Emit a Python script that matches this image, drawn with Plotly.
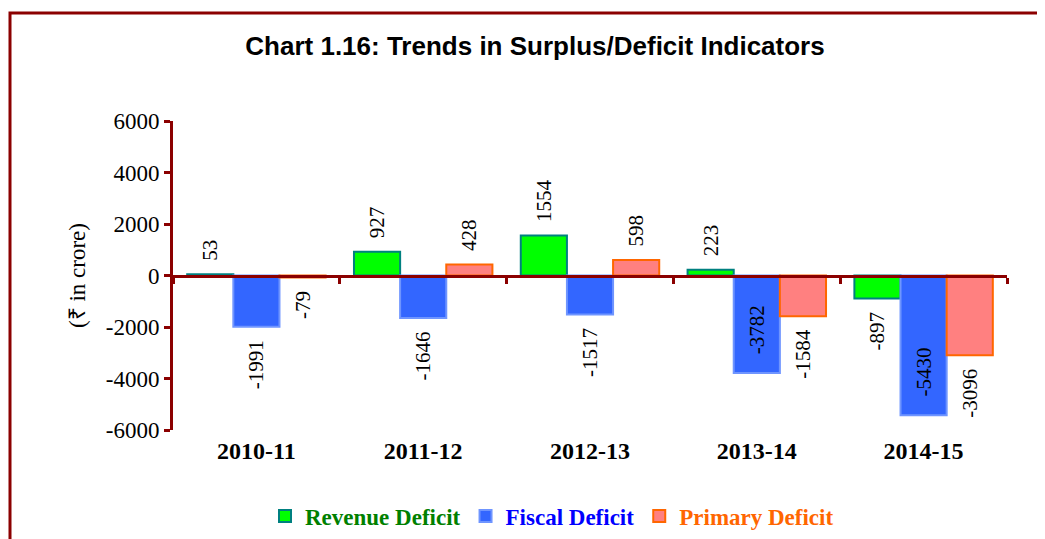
import plotly.graph_objects as go

years = ["2010-11", "2011-12", "2012-13", "2013-14", "2014-15"]
revenue_deficit = [53, 927, 1554, 223, -897]
fiscal_deficit = [-1991, -1646, -1517, -3782, -5430]
primary_deficit = [-79, 428, 598, -1584, -3096]
y_ticks = [-6000, -4000, -2000, 0, 2000, 4000, 6000]

# page places the figure at an 8px body margin; work in window pixels
OFF = 8
W, H = 1045 - OFF, 539 - OFF
PLOT_L, PLOT_R, PLOT_T, PLOT_B = 173, 1007, 121, 430
ML, MT = PLOT_L - OFF, PLOT_T - OFF
MR, MB = 1045 - PLOT_R, 539 - PLOT_B
PW, PH = PLOT_R - PLOT_L, PLOT_B - PLOT_T
DARK_RED = "#8B0000"
SERIF = "Liberation Serif, Times New Roman, serif"
NB = "\u00a0"


def labels(vals, inside=()):
    out = []
    for i, v in enumerate(vals):
        if i in inside:
            out.append(NB + NB + NB + str(v))
        elif v >= 0:
            out.append(NB + NB + str(v))
        else:
            out.append(str(v) + NB + NB)
    return out


def positions(vals, inside=()):
    return ["inside" if i in inside else "outside" for i in range(len(vals))]


series = [
    ("Revenue Deficit", revenue_deficit, "#00FF00", "#008080", "#008000", ()),
    ("Fiscal Deficit", fiscal_deficit, "#3366FF", "#6F95FF", "#0000FF", (3, 4)),
    ("Primary Deficit", primary_deficit, "#FF8080", "#FF6600", "#FF6600", ()),
]

fig = go.Figure()
for name, vals, fill, edge, txtcol, inside in series:
    fig.add_trace(go.Bar(
        x=years, y=vals, name=f'<b><span style="color:{txtcol}">{name}</span></b>',
        marker=dict(color=fill, line=dict(color=edge, width=2)),
        text=labels(vals, inside), textposition=positions(vals, inside),
        insidetextanchor="end", textangle=-90, constraintext="none",
        textfont=dict(family=SERIF, size=21, color="black"),
        cliponaxis=False, hoverinfo="x+y",
    ))

# helper trace for the zero-line axis with boundary ticks
fig.add_trace(go.Scatter(x=years, y=[0] * len(years), xaxis="x2", mode="none",
                         showlegend=False, hoverinfo="skip"))


def px_x(p):
    return (p - PLOT_L) / PW


def px_y(p):
    return (PLOT_B - p) / PH


fig.update_layout(
    width=W, height=H,
    margin=dict(l=ML, r=MR, t=MT, b=MB, autoexpand=False),
    paper_bgcolor="white", plot_bgcolor="white",
    barmode="group", bargap=0.17, bargroupgap=0,
    title=dict(text="<b>Chart 1.16: Trends in Surplus/Deficit Indicators</b>",
               x=(535 - OFF) / W, xanchor="center", y=1 - (46 - OFF) / H, yanchor="middle",
               automargin=False,
               font=dict(family="Liberation Sans, Arial, sans-serif", size=26, color="black")),
    xaxis=dict(type="category", range=[-0.5, 4.5], showline=False, ticks="",
               showgrid=False, zeroline=False, ticklabelstandoff=4, automargin=False,
               tickfont=dict(family=SERIF, size=24, color="black", weight="bold")),
    xaxis2=dict(type="category", range=[-0.5, 4.5], overlaying="x", anchor="free",
                position=0.5, side="bottom", showline=True, linecolor=DARK_RED,
                linewidth=3, ticks="outside", tickson="boundaries", ticklen=6,
                tickwidth=3, tickcolor=DARK_RED, showticklabels=False,
                showgrid=False, zeroline=False, automargin=False),
    yaxis=dict(range=[-6000, 6000], tickvals=y_ticks, ticktext=[str(v) for v in y_ticks],
               showline=True, linecolor=DARK_RED, automargin=False,
               linewidth=3, ticks="outside", ticklen=6, tickwidth=3,
               tickcolor=DARK_RED, showgrid=False, zeroline=False,
               tickfont=dict(family=SERIF, size=23, color="black"),
               title=dict(text="(₹ in crore)", standoff=14,
                          font=dict(family=SERIF, size=23, color="black"))),
    legend=dict(orientation="h", x=px_x(552), xanchor="center", y=px_y(516),
                yanchor="middle", font=dict(family=SERIF, size=23),
                bgcolor="rgba(0,0,0,0)"),
    showlegend=True,
    shapes=[dict(type="path", xref="paper", yref="paper",
                 path=f"M {px_x(10)},{px_y(560)} L {px_x(10)},{px_y(13)} L {px_x(1060)},{px_y(13)}",
                 line=dict(color=DARK_RED, width=3))],
)

fig.write_html("out.html")
